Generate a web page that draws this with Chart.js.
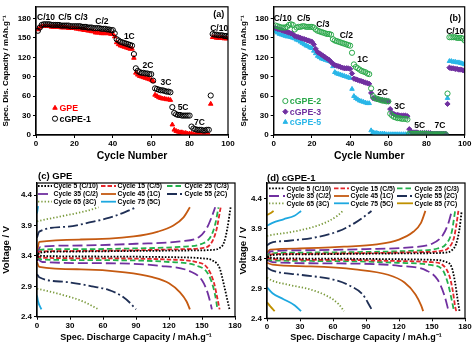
<!DOCTYPE html>
<html>
<head>
<meta charset="utf-8">
<script src="https://cdn.jsdelivr.net/npm/chart.js@4.4.1/dist/chart.umd.min.js"></script>
<style>
  body { margin: 0; background: #fff; width: 474px; height: 345px; overflow: hidden; position: relative; }
  canvas { position: absolute; }
  .ttl { position: absolute; font: bold 9.5px "Liberation Sans", Arial, sans-serif; color: #000; white-space: nowrap; }
</style>
</head>
<body>
<canvas id="ca" style="left:0;top:0" width="237" height="170"></canvas>
<canvas id="cb" style="left:237px;top:0" width="237" height="170"></canvas>
<canvas id="cc" style="left:0;top:170px" width="250" height="175"></canvas>
<canvas id="cd" style="left:237px;top:170px" width="237" height="175"></canvas>
<div class="ttl" style="left:38px;top:170px">(c) GPE</div>
<div class="ttl" style="left:267px;top:172px">(d) cGPE-1</div>
<script>
// ---- rate capability, cycles 1..100 (mAh/g) ----
const gpe = [163,166,168,168,168,168,168,167,167,167, 167,167,166,166,166,166,165,165,165,165,
  164,164,163,163,162,162,161,161,160,160, 158,158,158,157,157,157,157,157,156,156,
  152,143,140,138,137,136,135,134,133,133, 119,96,93,91,90,89,88,87,86,85,
  83,62,60,58,57,56,56,55,55,54, 16,8,6,5,4,4,3,3,2,2,
  2,1,1,1,1,0,0,0,0,0, 48,151,151,150,150,150,150,149,149,149];
const cgpe1 = [161,166,170,171,171,171,171,170,170,170, 170,170,169,169,169,169,169,168,168,168,
  168,168,168,167,167,167,166,166,166,165, 165,165,165,164,164,164,163,163,162,162,
  157,148,146,144,143,142,141,140,139,138, 125,103,99,97,96,96,95,95,94,94,
  84,72,71,70,69,69,68,67,67,66, 43,34,32,31,31,30,30,30,30,30,
  13,10,9,8,8,8,7,7,8,8, 61,156,155,155,154,154,154,153,153,152];
const cgpe2 = [169,168,167,166,166,166,167,170,171,170, 163,166,167,167,168,168,167,167,167,167,
  166,163,161,160,159,158,157,156,156,155, 148,146,145,144,143,142,141,140,139,138,
  127,109,105,103,101,99,98,97,95,94, 72,60,57,56,55,54,53,53,52,52,
  33,30,28,27,26,26,25,25,25,24, 2,2,2,2,2,2,2,2,2,2,
  1,1,1,1,1,1,1,1,1,1, 64,151,151,151,151,150,150,150,149,146];
const cgpe3 = [165,164,163,162,161,160,159,158,157,156, 153,152,151,150,149,148,147,146,145,144,
  140,133,128,126,124,122,120,118,116,113, 110,108,107,106,105,104,103,103,103,102,
  95,87,86,85,84,83,82,81,80,79, 65,57,56,55,55,54,54,53,53,52,
  40,34,32,31,31,30,30,30,30,29, 9,5,4,4,4,3,3,3,3,3,
  3,3,2,2,2,2,2,2,2,2, 48,104,103,103,102,102,101,101,100,99];
const cgpe5 = [160,158,156,155,154,153,152,152,151,150, 149,147,146,144,142,140,138,137,135,134,
  130,126,122,120,118,117,116,115,114,113, 106,97,95,94,93,92,91,90,89,88,
  71,60,57,55,53,52,51,50,49,49, 7,4,3,3,2,2,2,2,1,1,
  1,1,1,1,1,1,1,1,1,1, 1,1,1,1,1,1,1,1,1,1,
  1,1,1,1,1,1,1,1,1,1, 57,114,114,113,113,112,112,111,110,109];

const cycleTicks = [0, 20, 40, 60, 80, 100];
const capTicks = [0, 30, 60, 90, 120, 150, 180];
const voltTicks = [2.4, 2.9, 3.4, 3.9, 4.4];

const rateNames = ['C/10','C/5','C/3','C/2','1C','2C','3C','5C','7C','C/10'];
const rateSpotsA = [[5.2,181],[15,181],[23.5,181],[34.3,175],[48.6,152],[58.3,107],[67.7,81],[76.6,42],[85.1,19],[95.4,165]];
const rateSpotsB = [[4.7,180],[15.7,180],[25.8,170],[38,153],[46.6,117],[57,66],[66,43.5],[76.4,15],[87,15],[95,159]];

// ---- voltage profiles [capacity, V] ----
const cycleNames = ['Cycle 5 (C/10)','Cycle 15 (C/5)','Cycle 25 (C/3)','Cycle 35 (C/2)','Cycle 45 (1C)',
  'Cycle 55 (2C)','Cycle 65 (3C)','Cycle 75 (5C)','Cycle 85 (7C)'];

// GPE
const g5ch  = [[0,3.32],[2,3.45],[20,3.47],[80,3.48],[140,3.49],[160,3.50],[166,3.53],[170,3.62],[173,3.85],[176,4.2]];
const g5dis = [[0,3.42],[5,3.40],[60,3.39],[120,3.38],[150,3.36],[160,3.32],[166,3.2],[170,2.92],[173,2.68],[175,2.52]];
const g15ch  = [[0,3.34],[2,3.47],[20,3.48],[80,3.49],[130,3.51],[150,3.53],[158,3.6],[163,3.82],[167,4.2]];
const g15dis = [[0,3.4],[5,3.37],[60,3.36],[120,3.34],[145,3.3],[155,3.2],[161,2.95],[164,2.7],[166,2.52]];
const g25ch  = [[0,3.36],[2,3.5],[20,3.51],[80,3.52],[130,3.55],[150,3.6],[158,3.72],[162,3.92],[165,4.2]];
const g25dis = [[0,3.38],[5,3.34],[60,3.33],[120,3.3],[145,3.24],[155,3.12],[160,2.9],[163,2.65],[164,2.52]];
const g35ch  = [[0,3.4],[3,3.55],[30,3.57],[90,3.6],[130,3.64],[148,3.72],[155,3.88],[159,4.05],[162,4.2]];
const g35dis = [[0,3.36],[5,3.3],[60,3.28],[110,3.24],[140,3.14],[150,3.0],[155,2.8],[158,2.6],[159,2.52]];
const g45ch  = [[0,3.45],[2,3.63],[40,3.67],[88,3.72],[110,3.8],[124,3.9],[133,4.03],[139,4.2]];
const g45dis = [[0,3.3],[2,3.22],[40,3.18],[80,3.13],[105,3.05],[120,2.95],[130,2.8],[136,2.65],[139,2.52]];
const g55ch  = [[0,3.7],[2,3.8],[27,3.88],[50,3.96],[66,4.03],[80,4.12],[90,4.2]];
const g55dis = [[0,3.1],[2,3.05],[27,2.97],[50,2.9],[65,2.84],[77,2.74],[85,2.62],[90,2.52]];
const g65ch  = [[0,3.97],[5,3.99],[27,4.07],[45,4.14],[56,4.2]];
const g65dis = [[0,2.86],[5,2.84],[21,2.77],[42,2.65],[56,2.52]];
const g75ch  = [[0,4.1],[1,4.22]];
const g75dis = [[0,2.75],[1,2.65],[4,2.52]];

// cGPE-1
const c5ch  = [[0,3.36],[2,3.45],[20,3.47],[80,3.48],[140,3.49],[162,3.50],[168,3.54],[172,3.65],[175,3.9],[177,4.2]];
const c5dis = [[0,3.43],[5,3.41],[60,3.40],[120,3.39],[150,3.38],[162,3.35],[168,3.25],[171,3.0],[173,2.75],[175,2.52]];
const c15ch  = [[0,3.38],[2,3.47],[20,3.48],[80,3.49],[140,3.51],[158,3.53],[165,3.58],[170,3.75],[172,3.95],[174,4.2]];
const c15dis = [[0,3.42],[5,3.39],[60,3.38],[120,3.36],[150,3.34],[160,3.29],[166,3.1],[169,2.85],[171,2.6],[172,2.52]];
const c25ch  = [[0,3.4],[2,3.48],[20,3.50],[80,3.51],[130,3.53],[155,3.57],[163,3.65],[168,3.85],[171,4.2]];
const c25dis = [[0,3.40],[5,3.37],[60,3.36],[120,3.33],[150,3.29],[160,3.20],[165,2.95],[168,2.7],[170,2.52]];
const c35ch  = [[0,3.42],[3,3.52],[30,3.54],[90,3.56],[130,3.59],[150,3.65],[160,3.8],[165,4.0],[168,4.2]];
const c35dis = [[0,3.38],[5,3.34],[60,3.32],[120,3.28],[145,3.20],[155,3.05],[161,2.8],[164,2.6],[165,2.52]];
const c45ch  = [[0,3.50],[3,3.55],[30,3.57],[70,3.60],[100,3.64],[120,3.72],[133,3.85],[140,4.0],[144,4.2]];
const c45dis = [[0,3.33],[5,3.30],[40,3.27],[80,3.22],[110,3.13],[125,3.00],[135,2.80],[140,2.62],[142,2.52]];
const c55ch  = [[0,3.62],[3,3.66],[20,3.70],[45,3.76],[65,3.86],[80,4.0],[88,4.1],[95,4.2]];
const c55dis = [[0,3.25],[5,3.2],[30,3.13],[60,3.05],[75,2.95],[87,2.8],[93,2.62],[96,2.52]];
const c65ch  = [[0,3.78],[5,3.80],[20,3.84],[40,3.92],[55,4.02],[64,4.12],[69,4.2]];
const c65dis = [[0,3.08],[5,3.03],[20,2.96],[40,2.88],[55,2.77],[65,2.64],[70,2.52]];
const c75ch  = [[0,3.95],[5,4.0],[15,4.06],[25,4.12],[31,4.2]];
const c75dis = [[0,2.92],[5,2.82],[15,2.72],[25,2.62],[31,2.52]];
const c85ch  = [[0,4.13],[3,4.16],[6,4.2]];
const c85dis = [[0,2.67],[3,2.6],[7,2.52]];

// ---- styles ----
const cycleColors = ['#000000','#e3262b','#22b14c','#7030a0','#c55a11','#1f2f55','#7a9a3c','#1ea8e0','#bf9000'];
const cycleDashes = [[1.6,1.6],[4.5,2],[5.5,3],[10,4],[],[10,3,2,3],[1.3,2],[],[]];
const FONT = 'Liberation Sans';
Chart.defaults.font.family = FONT;
Chart.defaults.font.weight = 'bold';
Chart.defaults.color = '#000';

const toXY = arr => arr.map((v, i) => ({x: i + 1, y: v}));
const pairs = arr => arr.map(p => ({x: p[0], y: p[1]}));
const setTicks = list => s => { s.ticks = list.map(v => ({value: v})); };
const fixW = w => s => { s.width = w; };
const fixH = h => s => { s.height = h; };

const boxPlugin = {
  id: 'box',
  afterDraw(chart) {
    const {ctx, chartArea: a} = chart;
    ctx.save();
    ctx.strokeStyle = '#000';
    ctx.lineWidth = 1.2;
    ctx.strokeRect(a.left, a.top, a.right - a.left, a.bottom - a.top);
    ctx.restore();
  }
};

function notesPlugin(spots, tag, legendItems) {
  return {
    id: 'notes',
    afterDatasetsDraw(chart) {
      const {ctx, scales: {x, y}} = chart;
      ctx.save();
      ctx.font = 'bold 8.5px ' + FONT;
      ctx.fillStyle = '#000';
      ctx.textAlign = 'center';
      ctx.textBaseline = 'middle';
      spots.forEach((p, i) => ctx.fillText(rateNames[i], x.getPixelForValue(p[0]), y.getPixelForValue(p[1])));
      ctx.font = 'bold 9px ' + FONT;
      ctx.fillText(tag.text, x.getPixelForValue(tag.at[0]), y.getPixelForValue(tag.at[1]));
      // legend
      ctx.textAlign = 'left';
      ctx.font = 'bold 8.8px ' + FONT;
      legendItems.forEach(it => {
        const px = x.getPixelForValue(it.at[0]), py = y.getPixelForValue(it.at[1]);
        ctx.strokeStyle = it.color;
        ctx.fillStyle = it.fill ? it.color : 'rgba(0,0,0,0)';
        ctx.lineWidth = 1;
        Chart.helpers.drawPoint(ctx, {pointStyle: it.style, rotation: 0, radius: 2.6, borderWidth: 1}, px, py);
        ctx.fillStyle = it.color;
        ctx.fillText(it.text, px + 4.5, py + 0.5);
      });
      ctx.restore();
    }
  };
}

function axisCommon() {
  return {
    grid: {display: true, drawOnChartArea: false, drawTicks: true, tickLength: 3, color: '#000'},
    border: {display: true, color: '#000', width: 1.2}
  };
}

function cycleChart(id, datasets, spots, tag, legendItems, pad) {
  return new Chart(document.getElementById(id), {
    type: 'scatter',
    data: {datasets},
    options: {
      responsive: false, animation: false,
      layout: {padding: pad},
      plugins: {legend: {display: false}, tooltip: {enabled: false}},
      scales: {
        x: Object.assign(axisCommon(), {
          type: 'linear', min: 0, max: 100,
          afterBuildTicks: setTicks(cycleTicks), afterFit: fixH(35),
          ticks: {font: {size: 8, weight: 'bold'}, color: '#000', padding: 1},
          title: {display: true, text: 'Cycle Number', color: '#000', font: {size: 10.5, weight: 'bold'}, padding: {top: 0, bottom: 8}}
        }),
        y: Object.assign(axisCommon(), {
          min: 0, max: 198,
          afterBuildTicks: setTicks([0, 30, 60, 90, 120, 150, 180]), afterFit: fixW(36),
          ticks: {font: {size: 8, weight: 'bold'}, color: '#000', padding: 2},
          title: {display: true, text: 'Spec. Dis. Capacity / mAh.g⁻¹', color: '#000', font: {size: 8, weight: 'bold'}, padding: {top: 1, bottom: 0}}
        })
      }
    },
    plugins: [boxPlugin, notesPlugin(spots, tag, legendItems)]
  });
}

function pts(data, style, color, fill) {
  return {data: toXY(data), pointStyle: style, pointRadius: 2.6, pointBorderWidth: 1,
    pointBorderColor: color, pointBackgroundColor: fill ? color : 'rgba(0,0,0,0)', showLine: false};
}

cycleChart('ca', [
  pts(cgpe1, 'circle', '#000', false),
  pts(gpe, 'triangle', '#ff0000', true)
], rateSpotsA, {text: '(a)', at: [95.2, 186]}, [
  {text: 'GPE', at: [9.9, 41.8], style: 'triangle', color: '#ff0000', fill: true},
  {text: 'cGPE-1', at: [9.9, 25.2], style: 'circle', color: '#000', fill: false}
], {top: 3, right: 9, left: 0, bottom: 0});

cycleChart('cb', [
  pts(cgpe2, 'circle', '#2aa84a', false),
  pts(cgpe3, 'rectRot', '#7030a0', true),
  pts(cgpe5, 'triangle', '#29b6e8', true)
], rateSpotsB, {text: '(b)', at: [95, 180]}, [
  {text: 'cGPE-2', at: [6.1, 52.5], style: 'circle', color: '#2aa84a', fill: false},
  {text: 'cGPE-3', at: [6.1, 36], style: 'rectRot', color: '#7030a0', fill: true},
  {text: 'cGPE-5', at: [6.1, 20], style: 'triangle', color: '#29b6e8', fill: true}
], {top: 3, right: 9.3, left: 0.7, bottom: 0});

// ---- voltage profile panels ----
function lineLegend(cols, rows, count) {
  return {
    id: 'vlegend',
    afterDatasetsDraw(chart) {
      const {ctx} = chart;
      ctx.save();
      ctx.font = 'bold 6.8px ' + FONT;
      ctx.textBaseline = 'middle';
      ctx.textAlign = 'left';
      for (let i = 0; i < count; i++) {
        const c = cols[i % 3], r = rows[Math.floor(i / 3)];
        ctx.strokeStyle = cycleColors[i];
        ctx.lineWidth = 1.8;
        ctx.setLineDash(cycleDashes[i]);
        ctx.beginPath();
        ctx.moveTo(c[0], r);
        ctx.lineTo(c[1], r);
        ctx.stroke();
        ctx.fillStyle = '#000';
        ctx.fillText(cycleNames[i], c[1] + 1.5, r + 0.5);
      }
      ctx.restore();
    }
  };
}

function voltChart(id, curves, yMax, yW, pad, legend) {
  const datasets = [];
  curves.forEach((pair, i) => {
    pair.forEach(curve => datasets.push({
      data: pairs(curve), borderColor: cycleColors[i], borderDash: cycleDashes[i],
      borderWidth: 1.8, pointRadius: 0, fill: false, cubicInterpolationMode: 'monotone'
    }));
  });
  return new Chart(document.getElementById(id), {
    type: 'line',
    data: {datasets},
    options: {
      responsive: false, animation: false,
      layout: {padding: pad},
      plugins: {legend: {display: false}, tooltip: {enabled: false}},
      scales: {
        x: Object.assign(axisCommon(), {
          type: 'linear', min: 0, max: 180,
          afterBuildTicks: setTicks(capTicks), afterFit: fixH(175 - pad.top - (yMax.h)),
          ticks: {font: {size: 8, weight: 'bold'}, color: '#000', padding: 1},
          title: {display: true, text: 'Spec. Discharge Capacity / mAh.g⁻¹', color: '#000', font: {size: 9, weight: 'bold'}, padding: {top: 0, bottom: 2}}
        }),
        y: Object.assign(axisCommon(), {
          min: 2.4, max: yMax.v,
          afterBuildTicks: setTicks(voltTicks), afterFit: fixW(yW),
          ticks: {font: {size: 8, weight: 'bold'}, color: '#000', padding: 2},
          title: {display: true, text: 'Voltage / V', color: '#000', font: {size: 9.5, weight: 'bold'}, padding: {top: 1, bottom: 0}}
        })
      }
    },
    plugins: [boxPlugin, legend]
  });
}

voltChart('cc', [[g5ch, g5dis], [g15ch, g15dis], [g25ch, g25dis], [g35ch, g35dis], [g45ch, g45dis],
  [g55ch, g55dis], [g65ch, g65dis], [g75ch, g75dis]],
  {v: 4.6, h: 133.7}, 37, {top: 13, right: 15, left: 0, bottom: 0},
  lineLegend([[38, 52], [101, 116], [167, 183]], [16, 24, 31.7], 8));

voltChart('cd', [[c5ch, c5dis], [c15ch, c15dis], [c25ch, c25dis], [c35ch, c35dis], [c45ch, c45dis],
  [c55ch, c55dis], [c65ch, c65dis], [c75ch, c75dis], [c85ch, c85dis]],
  {v: 4.668, h: 135.3}, 30, {top: 13, right: 9, left: 0, bottom: 0},
  lineLegend([[32, 48], [97, 112], [160, 176]], [18.3, 26, 33.3], 9));
</script>
</body>
</html>
